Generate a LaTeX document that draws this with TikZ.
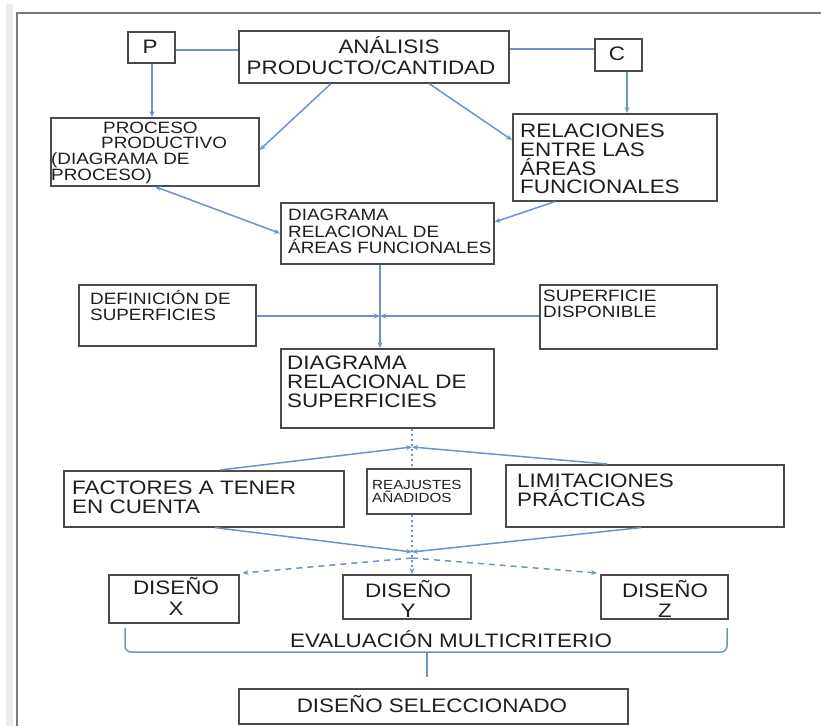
\documentclass[tikz,border=0pt]{standalone}
\usepackage{fontspec}
\setmainfont{Liberation Sans}[FakeStretch=1.15]
\usetikzlibrary{arrows.meta,calc}
\definecolor{ln}{HTML}{6E93C8}
\definecolor{bx}{HTML}{4A4A4A}
\definecolor{tx}{HTML}{1E1E1E}
\definecolor{fr}{HTML}{7A7A7A}
\definecolor{fa}{HTML}{ECECEC}
\tikzset{
 box/.style={draw=bx,line width=1.6pt,rectangle,inner sep=0pt,anchor=north west},
 conn/.style={draw=ln,line width=1.5pt},
 arr/.style={conn,-{Stealth[length=6pt,width=5pt]}},
 darr/.style={conn,{Stealth[length=6pt,width=5pt]}-{Stealth[length=6pt,width=5pt]}},
 dotl/.style={conn,line width=1.3pt,dash pattern=on 2pt off 3pt},
 dashl/.style={conn,dash pattern=on 6pt off 5pt},
 tt/.style={inner sep=0pt,text=tx},
 big/.style={tt,font=\fontsize{19.5}{20}\selectfont},
 mid/.style={tt,font=\fontsize{16.4}{16}\selectfont},
 sml/.style={tt,font=\fontsize{13.2}{13}\selectfont},
 lw/.style={anchor=base west},
 lc/.style={anchor=base},
}
\begin{document}
\begin{tikzpicture}[x=1pt,y=-1pt]
\useasboundingbox (0,0) rectangle (821,726);
% frame
\fill[fa] (6,4) rectangle (13,726);
\draw[fr,line width=2.4pt] (17,726) -- (17,13) -- (821,13);

% boxes
\node[box,minimum width=47,minimum height=31] (p) at (127,31) {};
\node[box,minimum width=270,minimum height=52] (ana) at (238,30) {};
\node[box,minimum width=47,minimum height=32] (c) at (594,38) {};
\node[box,minimum width=208,minimum height=68] (proc) at (50,117) {};
\node[box,minimum width=204,minimum height=87] (rel) at (512,113) {};
\node[box,minimum width=213,minimum height=61] (dra) at (280,202) {};
\node[box,minimum width=177,minimum height=61] (def) at (78,284) {};
\node[box,minimum width=177,minimum height=64] (sup) at (539,284) {};
\node[box,minimum width=213,minimum height=79] (dsup) at (280,348) {};
\node[box,minimum width=280,minimum height=56] (fac) at (63,470) {};
\node[box,minimum width=104,minimum height=45] (rea) at (366,468) {};
\node[box,minimum width=278,minimum height=62] (lim) at (505,464) {};
\node[box,minimum width=130,minimum height=48] (dx) at (108,574) {};
\node[box,minimum width=128,minimum height=44] (dy) at (342,574) {};
\node[box,minimum width=127,minimum height=44] (dz) at (600,574) {};
\node[box,minimum width=389,minimum height=35] (sel) at (238,688) {};

% texts
\node[big,anchor=center] (tp) at (150,47) {P};
\node[big,anchor=center] (tc) at (617,54) {C};
\node[big,lc] (ta1) at (389,53) {ANÁLISIS};
\node[big,lc] (ta2) at (371,74) {PRODUCTO/CANTIDAD};
\node[mid,lw] (tpr1) at (103,133) {PROCESO};
\node[mid,lw] (tpr2) at (101,148) {PRODUCTIVO};
\node[mid,lw] (tpr3) at (51,164) {(DIAGRAMA DE};
\node[mid,lw] (tpr4) at (51,180) {PROCESO)};
\node[big,lw] (tr1) at (520,137) {RELACIONES};
\node[big,lw] (tr2) at (520,156) {ENTRE LAS};
\node[big,lw] (tr3) at (520,175) {ÁREAS};
\node[big,lw] (tr4) at (520,193) {FUNCIONALES};
\node[mid,lw] (td1) at (288,220) {DIAGRAMA};
\node[mid,lw] (td2) at (288,237) {RELACIONAL DE};
\node[mid,lw] (td3) at (288,253) {ÁREAS FUNCIONALES};
\node[mid,lw] (tf1) at (90,304) {DEFINICIÓN DE};
\node[mid,lw] (tf2) at (90,320) {SUPERFICIES};
\node[mid,lw] (ts1) at (543,301) {SUPERFICIE};
\node[mid,lw] (ts2) at (543,317) {DISPONIBLE};
\node[big,lw] (tg1) at (287,369) {DIAGRAMA};
\node[big,lw] (tg2) at (287,388) {RELACIONAL DE};
\node[big,lw] (tg3) at (287,407) {SUPERFICIES};
\node[big,lw] (tk1) at (72,494) {FACTORES A TENER};
\node[big,lw] (tk2) at (72,513) {EN CUENTA};
\node[sml,lw] (tj1) at (372,489) {REAJUSTES};
\node[sml,lw] (tj2) at (372,502) {AÑADIDOS};
\node[big,lw] (tl1) at (517,487) {LIMITACIONES};
\node[big,lw] (tl2) at (517,506) {PRÁCTICAS};
\node[big,lc] (tx1) at (176,594) {DISEÑO};
\node[big,lc] (tx2) at (176,615) {X};
\node[big,lc] (ty1) at (408,597) {DISEÑO};
\node[big,lc] (ty2) at (408,617) {Y};
\node[big,lc] (tz1) at (665,597) {DISEÑO};
\node[big,lc] (tz2) at (665,617) {Z};
\node[big,lc] (te) at (451,647) {EVALUACIÓN MULTICRITERIO};
\node[big,lc] (tsel) at (432,712) {DISEÑO SELECCIONADO};

% junction coordinates
\coordinate (j1) at (380,316);
\coordinate (j2) at (412,447);
\coordinate (j3) at (412,552);
\coordinate (j4) at (412,558);
\coordinate (bl) at (125,628);
\coordinate (br) at (727,628);
\coordinate (bm) at (427,652);
\coordinate (bs) at (427,677);

% connectors
\draw[conn] ($(p.north east)+(0,19)$) coordinate (pa) -- (pa -| ana.west);
\draw[conn] ($(ana.north east)+(0,19)$) coordinate (ac) -- (ac -| c.west);
\draw[arr] ($(p.south west)+(25,0)$) coordinate (pd) -- (pd |- proc.north);
\draw[arr] ($(c.south west)+(33,0)$) coordinate (cd) -- (cd |- rel.north);
\draw[arr] ($(ana.south west)+(93,0)$) -- ($(proc.north east)+(0,33)$);
\draw[arr] ($(ana.south west)+(191,0)$) -- ($(rel.north west)+(0,27)$);
\draw[darr] ($(proc.south west)+(105,0)$) -- (dra.west);
\draw[arr] ($(rel.south west)+(43,0)$) -- ($(dra.north east)+(0,20)$);
\draw[arr] ($(dra.south west)+(100,0)$) coordinate (dd) -- (dd |- dsup.north);
\draw[arr] (j1 -| def.east) -- (j1);
\draw[arr] (j1 -| sup.west) -- (j1);

\draw[dotl] (j2 |- dsup.south) -- (j2 |- rea.north);
\draw[dotl,-{Stealth[length=6pt,width=5pt]}] (j2 |- rea.south) -- (j2 |- dy.north);
\draw[arr] ($(fac.north west)+(157,0)$) -- (j2);
\draw[arr] ($(lim.north west)+(102,0)$) -- (j2);
\draw[arr] ($(fac.south west)+(152,0)$) -- (j3);
\draw[arr] ($(lim.south west)+(136,0)$) -- (j3);
\draw[dashl,-{Stealth[length=6pt,width=5pt]}] (j4) -- ($(dx.north east)+(3,-1)$);
\draw[dashl,-{Stealth[length=6pt,width=5pt]}] (j4) -- ($(dz.north west)+(-3,-1)$);

\draw[conn,rounded corners=6pt] (bl) -- (bl |- bm) -- (br |- bm) -- (br);
\draw[conn,line width=2pt] (bm) -- (bs);
\end{tikzpicture}
\end{document}
